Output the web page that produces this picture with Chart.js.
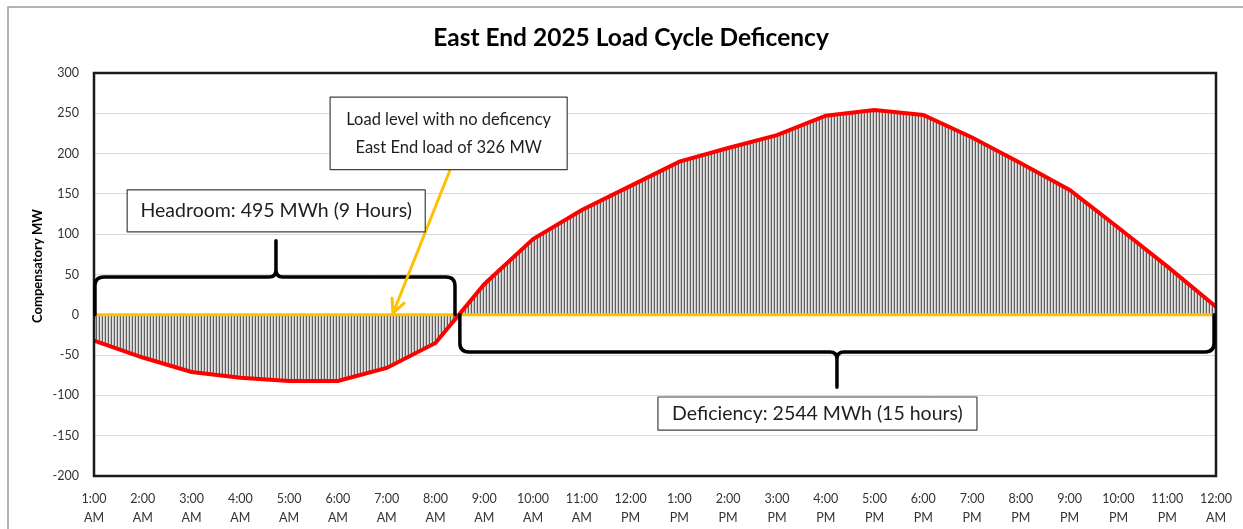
<!DOCTYPE html>
<html>
<head>
<meta charset="utf-8">
<script src="https://cdn.jsdelivr.net/npm/chart.js@4.4.1/dist/chart.umd.min.js"></script>
<style>
  html, body { margin: 0; padding: 0; background: #fff; }
</style>
</head>
<body>
<canvas id="myChart" width="1243" height="529"></canvas>
<script>
// hourly labels, two lines each
const hours = ["1:00", "2:00", "3:00", "4:00", "5:00", "6:00", "7:00", "8:00", "9:00", "10:00", "11:00", "12:00",
  "1:00", "2:00", "3:00", "4:00", "5:00", "6:00", "7:00", "8:00", "9:00", "10:00", "11:00", "12:00"];
const periods = ["AM", "AM", "AM", "AM", "AM", "AM", "AM", "AM", "AM", "AM", "AM", "PM",
  "PM", "PM", "PM", "PM", "PM", "PM", "PM", "PM", "PM", "PM", "PM", "AM"];

// compensatory MW
const compensatoryMW = [-32, -53, -71, -78, -82, -82, -66, -35, 38, 94, 130, 160,
  190, 207, 223, 247, 254, 248, 220, 188, 155, 108, 60, 10];
// load level with no deficency
const noDeficiency = [0, 0, 0, 0, 0, 0, 0, 0, 0, 0, 0, 0, 0, 0, 0, 0, 0, 0, 0, 0, 0, 0, 0, 0];

const yTicks = { min: -200, max: 300, step: 50 };

const titleText = "East End 2025 Load Cycle Deficency";
const yTitle = "Compensatory MW";
const headroomText = ["Headroom: 495 MWh (9 Hours)"];
const loadText = ["Load level with no deficency", "East End load of 326 MW"];
const deficiencyText = ["Deficiency: 2544 MWh (15 hours)"];

// annotation anchors in data units (x = hour index, y = MW)
const braces = [
  { from: 0.02, to: 7.4, mid: 3.73, base: 0, level: 47, tip: 92 },
  { from: 7.5, to: 22.96, mid: 15.23, base: 0, level: -46, tip: -90 }
];
const boxes = [
  { x1: 0.68, x2: 6.79, y1: 155, y2: 103, lines: headroomText, size: 19.5, lh: 1.6 },
  { x1: 4.84, x2: 9.70, y1: 270, y2: 180, lines: loadText, size: 16.5, lh: 1.7 },
  { x1: 11.56, x2: 18.10, y1: -102, y2: -143, lines: deficiencyText, size: 19.5, lh: 1.6 }
];
const arrow = { x1: 7.30, y1: 180, x2: 6.13, y2: 2 };

const FONT = "Lato, 'Open Sans', sans-serif";

function hatch() {
  const c = document.createElement("canvas");
  c.width = 3; c.height = 4;
  const g = c.getContext("2d");
  g.fillStyle = "#e2e2e2"; g.fillRect(0, 0, 3, 4);
  g.fillStyle = "#606060"; g.fillRect(0, 0, 1, 4);
  g.fillStyle = "#c4c4c4"; g.fillRect(2, 0, 1, 4);
  return document.getElementById("myChart").getContext("2d").createPattern(c, "repeat");
}

const decor = {
  id: "decor",
  afterDraw(chart) {
    const ctx = chart.ctx;
    const x = chart.scales.x, y = chart.scales.y;
    const a = chart.chartArea;
    const px = v => x.getPixelForValue(v);
    const py = v => y.getPixelForValue(v);
    ctx.save();

    // outer border
    ctx.strokeStyle = "#9a9a9a";
    ctx.lineWidth = 1.5;
    ctx.strokeRect(8, 7, 1260, 560);

    // plot frame
    ctx.strokeStyle = "#1a1a1a";
    ctx.lineWidth = 2.5;
    ctx.strokeRect(a.left, a.top, a.right - a.left, a.bottom - a.top);

    // title
    ctx.fillStyle = "#000";
    ctx.font = "bold 24.5px " + FONT;
    ctx.textAlign = "center";
    ctx.textBaseline = "middle";
    ctx.fillText(titleText, 631, 38);

    // y axis title
    ctx.save();
    ctx.translate(38, 266);
    ctx.rotate(-Math.PI / 2);
    ctx.font = "bold 13px " + FONT;
    ctx.fillText(yTitle, 0, 0);
    ctx.restore();

    // braces
    ctx.strokeStyle = "#000";
    ctx.lineWidth = 3.5;
    ctx.lineJoin = "round";
    ctx.lineCap = "round";
    braces.forEach(b => {
      const x1 = px(b.from), x2 = px(b.to), xm = px(b.mid);
      const yb = py(b.base), yl = py(b.level), yt = py(b.tip);
      const d = yl < yb ? -1 : 1;
      const r = 9, s = 7;
      ctx.beginPath();
      ctx.moveTo(x1, yb);
      ctx.lineTo(x1, yl - d * r);
      ctx.quadraticCurveTo(x1, yl, x1 + r, yl);
      ctx.lineTo(xm - s, yl);
      ctx.quadraticCurveTo(xm, yl, xm, yl + d * s);
      ctx.lineTo(xm, yt);
      ctx.moveTo(xm, yl + d * s);
      ctx.quadraticCurveTo(xm, yl, xm + s, yl);
      ctx.lineTo(x2 - r, yl);
      ctx.quadraticCurveTo(x2, yl, x2, yl - d * r);
      ctx.lineTo(x2, yb);
      ctx.stroke();
    });

    // orange arrow
    const ax1 = px(arrow.x1), ay1 = py(arrow.y1), ax2 = px(arrow.x2), ay2 = py(arrow.y2);
    ctx.strokeStyle = "#FFC000";
    ctx.lineWidth = 3;
    ctx.lineCap = "round";
    ctx.beginPath();
    ctx.moveTo(ax1, ay1);
    ctx.lineTo(ax2, ay2);
    const ang = Math.atan2(ay2 - ay1, ax2 - ax1);
    [0.45, -0.45].forEach(o => {
      ctx.moveTo(ax2, ay2);
      ctx.lineTo(ax2 - 15 * Math.cos(ang + o), ay2 - 15 * Math.sin(ang + o));
    });
    ctx.stroke();

    // text boxes
    boxes.forEach(bx => {
      const l = px(bx.x1), r = px(bx.x2), t = py(bx.y1), btm = py(bx.y2);
      ctx.fillStyle = "#fff";
      ctx.fillRect(l, t, r - l, btm - t);
      ctx.strokeStyle = "#404040";
      ctx.lineWidth = 1.2;
      ctx.strokeRect(l, t, r - l, btm - t);
      ctx.fillStyle = "#1e1e1e";
      ctx.font = bx.size + "px " + FONT;
      ctx.textAlign = "center";
      ctx.textBaseline = "middle";
      const lh = bx.size * bx.lh;
      const cy = (t + btm) / 2 - (bx.lines.length - 1) * lh / 2;
      bx.lines.forEach((ln, i) => ctx.fillText(ln, (l + r) / 2, cy + i * lh));
    });
    ctx.restore();
  }
};

const ctx = document.getElementById("myChart").getContext("2d");
const chart = new Chart(ctx, {
  type: "line",
  data: {
    labels: hours.map((h, i) => [h, periods[i]]),
    datasets: [
      {
        label: "Compensatory MW",
        data: compensatoryMW,
        borderColor: "#FF0000",
        borderWidth: 4,
        pointRadius: 0,
        tension: 0,
        fill: "origin",
        backgroundColor: hatch(),
      },
      {
        label: "No deficency",
        data: noDeficiency,
        borderColor: "#FFC000",
        borderWidth: 3,
        pointRadius: 0,
        fill: false,
      },
    ],
  },
  options: {
    responsive: false,
    animation: false,
    devicePixelRatio: 1,
    layout: { padding: { top: 73, right: 27, left: 0, bottom: 0 } },
    plugins: {
      legend: { display: false },
      title: { display: false },
      tooltip: { enabled: false },
      filler: { drawTime: "beforeDatasetsDraw" },
    },
    scales: {
      x: {
        offset: false,
        grid: { display: false },
        border: { display: false },
        ticks: {
          maxRotation: 0,
          autoSkip: false,
          padding: 5,
          color: "#333333",
          font: { family: FONT, size: 12.5, lineHeight: 1.55 },
        },
        afterFit(scale) { scale.height = 53; },
      },
      y: {
        min: yTicks.min,
        max: yTicks.max,
        grid: { color: "#d9d9d9", lineWidth: 1, drawTicks: false },
        border: { display: false },
        ticks: {
          stepSize: yTicks.step,
          padding: 15,
          color: "#333333",
          font: { family: FONT, size: 12.5 },
        },
        afterFit(scale) { scale.width = 94; },
      },
    },
  },
  plugins: [decor],
});
</script>
</body>
</html>
